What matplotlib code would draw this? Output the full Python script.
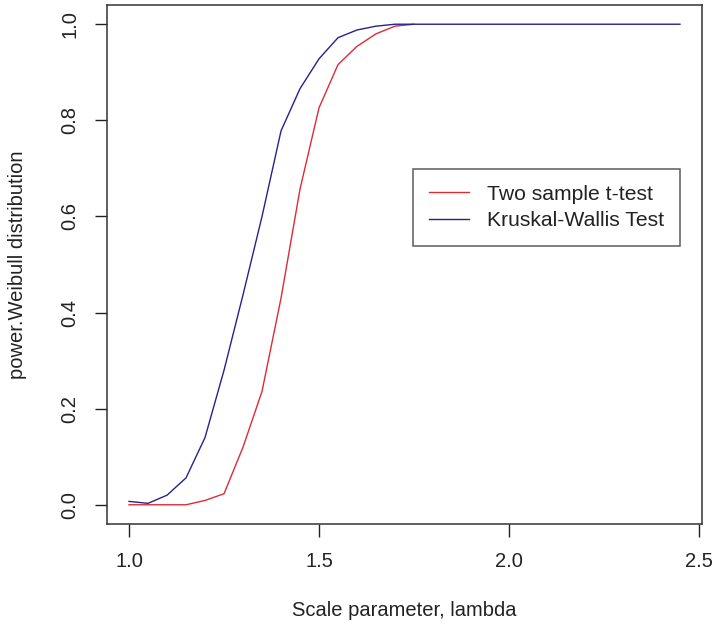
import numpy as np
import matplotlib
matplotlib.use("Agg")
import matplotlib.pyplot as plt

# scale parameter grid (lambda)
lam_t = [1.00, 1.05, 1.10, 1.15, 1.20, 1.25, 1.30, 1.35, 1.40, 1.45,
         1.50, 1.55, 1.60, 1.65, 1.70, 1.75]
power_t = [0.000, 0.000, 0.000, 0.000, 0.009, 0.023, 0.120, 0.236, 0.430, 0.657,
           0.826, 0.916, 0.954, 0.980, 0.996, 1.000]

lam_kw = [1.00, 1.05, 1.10, 1.15, 1.20, 1.25, 1.30, 1.35, 1.40, 1.45,
          1.50, 1.55, 1.60, 1.65, 1.70, 1.75, 1.80, 1.85, 1.90, 1.95,
          2.00, 2.05, 2.10, 2.15, 2.20, 2.25, 2.30, 2.35, 2.40, 2.45]
power_kw = [0.007, 0.003, 0.020, 0.056, 0.140, 0.280, 0.437, 0.600, 0.778, 0.866,
            0.928, 0.972, 0.988, 0.996, 1.000, 1.000, 1.000, 1.000, 1.000, 1.000,
            1.000, 1.000, 1.000, 1.000, 1.000, 1.000, 1.000, 1.000, 1.000, 1.000]

x_ticks = [1.0, 1.5, 2.0, 2.5]
y_ticks = [0.0, 0.2, 0.4, 0.6, 0.8, 1.0]

plt.rcParams['font.family'] = ['Liberation Sans', 'DejaVu Sans']

fig = plt.figure(figsize=(7.15, 6.29), dpi=100)
ax = fig.add_axes([107/715, 1-524/629, 595/715, 519/629])

ax.plot(lam_t, power_t, color="#dd2b35", lw=1.0, label="Two sample t-test")
ax.plot(lam_kw, power_kw, color="#23238c", lw=1.0, label="Kruskal-Wallis Test")

# R style 4% padding
ax.set_xlim(0.942, 2.508)
ax.set_ylim(-0.04, 1.04)

ax.set_xticks(x_ticks)
ax.set_xticklabels(["%.1f" % v for v in x_ticks])
ax.set_yticks(y_ticks)
ax.set_yticklabels(["%.1f" % v for v in y_ticks], rotation=90, va="center")

ax.tick_params(direction="out", length=9, width=1, labelsize=14.5,
               colors="#222222", pad=11)
for s in ax.spines.values():
    s.set_linewidth(1.1)
    s.set_color("#333333")

ax.set_xlabel("Scale parameter, lambda", fontsize=14.5, color="#222222", labelpad=22)
ax.set_ylabel("power.Weibull distribution", fontsize=14.5, color="#222222", labelpad=24)

leg = ax.legend(loc="upper left", bbox_to_anchor=(0.514, 0.684), borderaxespad=0,
                fontsize=15.2, frameon=True, fancybox=False, handlelength=1.9,
                handletextpad=0.85, labelspacing=0.36, borderpad=0.75)
leg.get_frame().set_edgecolor("#333333")
leg.get_frame().set_linewidth(1.1)
for t in leg.get_texts():
    t.set_color("#222222")

fig.savefig("out.png", dpi=100)
